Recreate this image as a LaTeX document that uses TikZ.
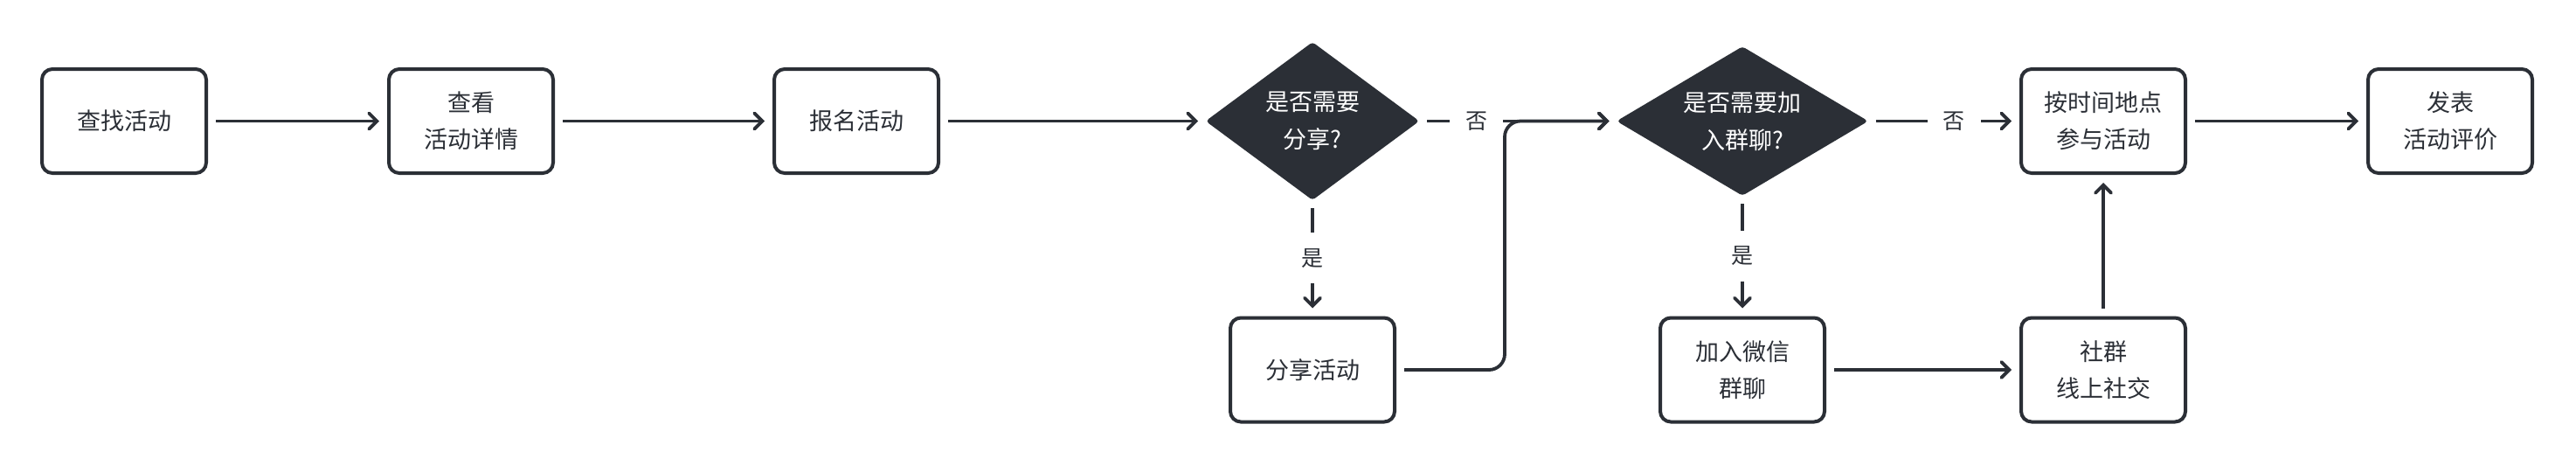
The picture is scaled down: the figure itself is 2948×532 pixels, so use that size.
\documentclass[tikz,border=0pt]{standalone}
\usepackage{fontspec}
\setmainfont{Noto Sans CJK SC}
\usetikzlibrary{shapes.geometric,arrows.meta}
\definecolor{ink}{HTML}{2B2F36}
\begin{document}
\begin{tikzpicture}[x=0.5pt,y=-0.5pt,
  box/.style={draw=ink, line width=2pt, rounded corners=6pt, minimum width=94pt, minimum height=59.5pt, inner sep=0pt, align=center, text=ink, font=\fontsize{13.5}{21}\selectfont},
  decision/.style={diamond, fill=ink, draw=ink, line width=1pt, rounded corners=1.5pt, inner sep=0pt, align=center, text=white, font=\fontsize{13.5}{21.5}\selectfont},
  conn/.style={draw=ink, line width=1.9pt, -{Straight Barb[length=4.5pt,width=9pt,line cap=round]}, shorten <=4.5pt, shorten >=4.5pt},
  lab/.style={fill=white, text=ink, font=\fontsize{12.5}{12.5}\selectfont, inner xsep=9pt, inner ysep=9pt}
]
\useasboundingbox (0,0) rectangle (2948,532);
% top row
\node[box] (find) at (142,138.5) {查找活动};
\node[box] (view) at (539,138.5) {查看\\活动详情};
\node[box] (reg) at (980,138.5) {报名活动};
\node[decision, shape aspect=1.35, minimum width=121pt, minimum height=89.5pt] (d1) at (1502,138.5) {是否需要\\分享?};
\node[decision, shape aspect=1.69, minimum width=142.5pt, minimum height=84.5pt] (d2) at (1994,138.5) {是否需要加\\入群聊?};
\node[box] (join) at (2407,138.5) {按时间地点\\参与活动};
\node[box] (eval) at (2804,138.5) {发表\\活动评价};
% bottom row
\node[box] (share) at (1502,423) {分享活动};
\node[box] (wx) at (1994,423) {加入微信\\群聊};
\node[box] (comm) at (2407,423) {社群\\线上社交};
\coordinate (bend) at (1722,423);
\coordinate (bendtop) at (1722,138.5);
% connectors
\draw[conn] (find) -- (view);
\draw[conn] (view) -- (reg);
\draw[conn] (reg) -- (d1);
\draw[conn] (d1) -- node[lab, pos=0.29] {否} (d2);
\draw[conn] (d1) -- node[lab] {是} (share);
\draw[conn, rounded corners=9pt] (share.east) -- (bend) -- (bendtop) -- (d2.west);
\draw[conn] (d2) -- node[lab, pos=0.57] {否} (join);
\draw[conn] (d2) -- node[lab] {是} (wx);
\draw[conn] (wx) -- (comm);
\draw[conn] (comm) -- (join);
\draw[conn] (join) -- (eval);
\end{tikzpicture}
\end{document}
